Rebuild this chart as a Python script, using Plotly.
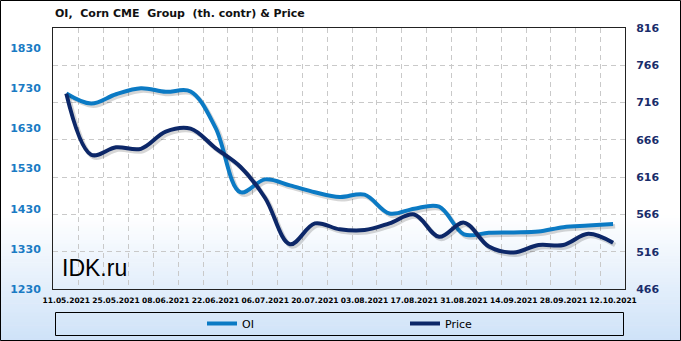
import plotly.graph_objects as go
import pandas as pd

# ---------------- data ----------------
dates = ["2021-05-11", "2021-05-18", "2021-05-25", "2021-06-01", "2021-06-08",
         "2021-06-15", "2021-06-22", "2021-06-29", "2021-07-06", "2021-07-13",
         "2021-07-20", "2021-07-27", "2021-08-03", "2021-08-10", "2021-08-17",
         "2021-08-24", "2021-08-31", "2021-09-07", "2021-09-14", "2021-09-21",
         "2021-09-28", "2021-10-05", "2021-10-12"]
oi = [1717, 1692, 1715, 1730, 1721, 1722, 1632, 1471, 1503, 1488, 1471, 1459,
      1465, 1418, 1430, 1435, 1366, 1370, 1371, 1373, 1384, 1388, 1392]
price = [728, 646, 656, 654, 677, 681, 655, 630, 588, 526, 554, 546,
         545, 554, 566, 536, 555, 523, 515, 525, 525, 540, 528]
left_ticks = [1230, 1330, 1430, 1530, 1630, 1730, 1830]
title_text = "OI,  Corn CME  Group  (th. contr) & Price"

# ---------------- geometry helpers ----------------
W, H = 681, 341
L, R, T, B = 53, 625, 28, 289  # plot area in pixels
def px(x):
    return (x - L) / (R - L)
def py(y):
    return (B - y) / (B - T)

dts = pd.to_datetime(dates)
label_dates = dts[::2]
label_text = [d.strftime("%d.%m.%Y") for d in label_dates]
grid_dates = [d + pd.Timedelta(hours=84) for d in dts[:-1]]

OI_COLOR = "#0b7ac4"
PRICE_COLOR = "#0c2768"

fig = go.Figure()

# shadows
sx = [d + pd.Timedelta(hours=14) for d in dts]
fig.add_trace(go.Scatter(x=sx, y=[v - 5.5 for v in oi], mode="lines",
                         line=dict(color="rgba(0,0,0,0.16)", width=4.5, shape="spline", smoothing=1.0),
                         hoverinfo="skip", showlegend=False))
fig.add_trace(go.Scatter(x=sx, y=[v - 3.0 for v in price], mode="lines", yaxis="y2",
                         line=dict(color="rgba(0,0,0,0.16)", width=4.5, shape="spline", smoothing=1.0),
                         hoverinfo="skip", showlegend=False))

fig.add_trace(go.Scatter(x=dts, y=oi, name="OI", mode="lines",
                         line=dict(color=OI_COLOR, width=4, shape="spline", smoothing=1.0)))
fig.add_trace(go.Scatter(x=dts, y=price, name="Price", mode="lines", yaxis="y2",
                         line=dict(color=PRICE_COLOR, width=4, shape="spline", smoothing=1.0)))

# background gradient strips (white -> light blue)
shapes = []
y_start, y_end = 215, 341
n = 40
top_c = (255, 255, 255)
bot_c = (206, 226, 248)
for i in range(n):
    y0 = y_start + (y_end - y_start) * i / n
    y1 = y_start + (y_end - y_start) * (i + 1) / n + 0.6
    t = (i + 0.5) / n
    c = tuple(int(round(top_c[k] + (bot_c[k] - top_c[k]) * t)) for k in range(3))
    shapes.append(dict(type="rect", xref="paper", yref="paper", layer="below",
                       x0=px(0), x1=px(W), y0=py(y1), y1=py(y0),
                       fillcolor="rgb(%d,%d,%d)" % c, line=dict(width=0)))
# legend box
shapes.append(dict(type="rect", xref="paper", yref="paper",
                   x0=px(55.5), x1=px(623.5), y0=py(335.5), y1=py(312.5),
                   line=dict(color="#000000", width=1), fillcolor="rgba(0,0,0,0)"))
# outer border
shapes.append(dict(type="rect", xref="paper", yref="paper",
                   x0=px(0.5), x1=px(680.5), y0=py(340.5), y1=py(0.5),
                   line=dict(color="#000000", width=1), fillcolor="rgba(0,0,0,0)"))

fig.update_layout(
    width=W, height=H,
    margin=dict(l=L, r=W - R, t=T, b=H - B, pad=0, autoexpand=False),
    paper_bgcolor="white", plot_bgcolor="rgba(0,0,0,0)",
    shapes=shapes,
    showlegend=True,
    legend=dict(orientation="h", x=px(202), xanchor="left", y=py(323.5), yanchor="middle",
                bgcolor="rgba(0,0,0,0)", borderwidth=0, entrywidth=158, entrywidthmode="pixels",
                font=dict(family="DejaVu Sans", size=11, color="#000000"), traceorder="normal"),
    annotations=[
        dict(text="<b>" + title_text + "</b>", xref="paper", yref="paper",
             x=px(53), y=py(14), xanchor="left", yanchor="middle", showarrow=False,
             font=dict(family="DejaVu Sans", size=11, color="#111111")),
        dict(text="IDK.ru", xref="paper", yref="paper", x=px(60), y=py(268),
             xanchor="left", yanchor="middle", showarrow=False,
             font=dict(family="Liberation Sans", size=23, color="#000000")),
    ],
    xaxis=dict(type="date", range=["2021-05-07 06:00", "2021-10-15 08:30"], automargin=False,
               tickmode="array", tickvals=label_dates, ticktext=label_text,
               tickfont=dict(family="DejaVu Sans", size=7.5, color="#000000", weight="bold"),
               ticks="outside", ticklen=4, tickcolor="rgba(0,0,0,0)",
               showgrid=False, showline=True, linecolor="#222222", linewidth=1, mirror=True,
               zeroline=False,
               minor=dict(tickvals=grid_dates, showgrid=True, gridcolor="#c9c9c9",
                          griddash="5px,4px", gridwidth=1, ticks="")),
    yaxis=dict(range=[1230, 1880], tickmode="array", tickvals=left_ticks, automargin=False,
               tickfont=dict(family="DejaVu Sans", size=11, color="#1a7bc4", weight="bold"),
               ticks="outside", ticklen=9, tickcolor="rgba(0,0,0,0)",
               showgrid=False, zeroline=False, showline=True, linecolor="#222222",
               linewidth=1, mirror=True),
    yaxis2=dict(range=[466, 816], overlaying="y", side="right", tick0=466, dtick=50,
                automargin=False,
                tickfont=dict(family="DejaVu Sans", size=11, color="#1a2d6b", weight="bold"),
                ticks="outside", ticklen=8, tickcolor="rgba(0,0,0,0)",
                showgrid=True, gridcolor="#c9c9c9", griddash="5px,4px", gridwidth=1,
                zeroline=False, showline=False),
)

fig.write_html("out.html")
